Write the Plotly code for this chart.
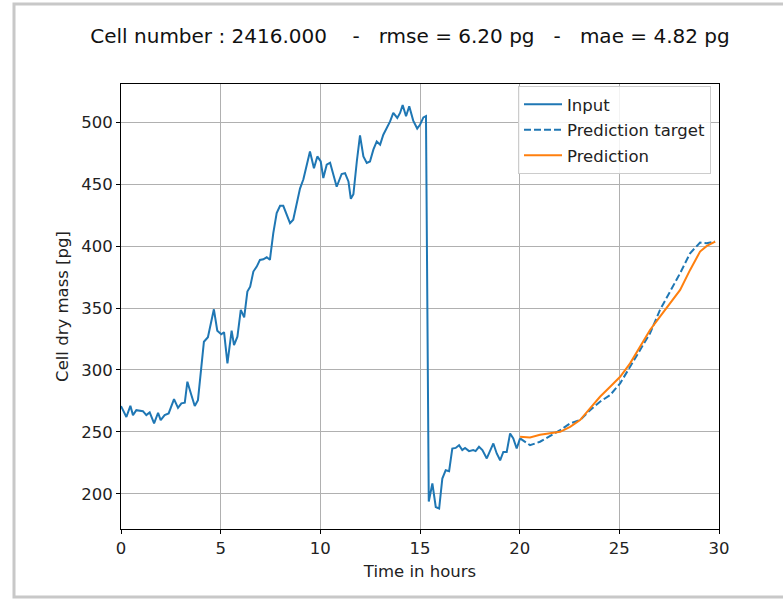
import plotly.graph_objects as go

# ---- data ----
input_t = [0.0, 0.27, 0.47, 0.6, 0.77, 1.1, 1.27, 1.44, 1.66, 1.86, 1.99, 2.19, 2.39, 2.66, 2.86,
           3.03, 3.2, 3.33, 3.53, 3.7, 3.86, 4.16, 4.36, 4.66, 4.83, 5.03, 5.17, 5.34, 5.55, 5.67,
           5.84, 6.01, 6.18, 6.34, 6.48, 6.64, 6.81, 6.97, 7.14, 7.31, 7.47, 7.64, 7.81, 7.98, 8.14,
           8.31, 8.48, 8.64, 8.82, 8.98, 9.15, 9.48, 9.68, 9.85, 10.02, 10.15, 10.32, 10.49, 10.82,
           11.07, 11.24, 11.41, 11.53, 11.66, 11.83, 11.99, 12.16, 12.33, 12.49, 12.66, 12.83, 13.0,
           13.16, 13.33, 13.5, 13.66, 13.86, 14.0, 14.13, 14.3, 14.46, 14.66, 14.86, 15.0, 15.17,
           15.3, 15.44, 15.62, 15.79, 15.96, 16.12, 16.29, 16.46, 16.62, 16.79, 16.96, 17.12, 17.26,
           17.46, 17.67, 17.79, 17.96, 18.13, 18.35, 18.52, 18.68, 18.85, 19.02, 19.18, 19.35, 19.52,
           19.68, 19.85, 20.02]
input_mass = [270.8, 262, 271, 263.5, 267.5, 266.7, 263.5, 265.7, 256.8, 265.4, 259.5, 263.5, 264.9,
              276.4, 269.4, 273, 273.5, 290.5, 279.7, 270.8, 275.6, 322.8, 326.4, 349, 331.7, 328.8,
              330.5, 305.3, 331.7, 320, 326.9, 348.5, 342.5, 363.3, 367.3, 379.5, 383.5, 388.9, 389.4,
              391, 389, 410.5, 426.7, 432.6, 432.6, 425.3, 418.6, 421.3, 434.8, 446.5, 454, 476.5, 463,
              472.5, 468.4, 455, 465.8, 467.4, 448, 458.3, 459, 452.3, 438.3, 442, 468.4, 489.5, 472.5,
              467.2, 468.4, 478, 484.6, 482, 490, 495.5, 500.8, 507.6, 503.6, 507.6, 514, 504.9, 513,
              501.4, 495, 498, 504, 505, 193.7, 208.3, 189.3, 188, 212.3, 219, 218.2, 236.5, 237, 239.2,
              235.2, 237, 234.4, 235.2, 234.4, 237.9, 235.2, 228.5, 235.2, 240.6, 232.5, 227, 233.8,
              233.8, 248.7, 244.7, 236.5, 244.7]

target_t = [20.02, 20.52, 21.02, 21.52, 22.03, 22.53, 23.03, 23.53, 24.03, 24.54, 25.04, 25.54,
            26.04, 26.54, 27.04, 27.55, 28.05, 28.55, 29.05, 29.39, 29.8]
target_mass = [244.7, 239.2, 242, 246.5, 251.4, 256.8, 259.5, 267.5, 274.3, 279.7, 289.2, 302.6,
               316.1, 329.6, 348.5, 363.3, 378.2, 394.3, 402.9, 402.4, 403.7]

pred_t = [20.02, 20.52, 21.02, 21.52, 22.03, 22.53, 23.03, 23.53, 24.03, 24.54, 25.04, 25.54,
          26.04, 26.54, 27.04, 27.55, 28.05, 28.55, 29.05, 29.39, 29.81]
pred_mass = [246, 245.5, 247.6, 248.7, 250, 254, 259.5, 268.9, 278.3, 286.4, 294.5, 305.3,
             318.8, 332.3, 343, 353.9, 364.6, 380.8, 395.6, 400.2, 403.7]

x_ticks = [0, 5, 10, 15, 20, 25, 30]
y_ticks = [200, 250, 300, 350, 400, 450, 500]

title_text = ("Cell number : 2416.000&nbsp;&nbsp;&nbsp;&nbsp;-&nbsp;&nbsp;&nbsp;rmse = 6.20 pg"
              "&nbsp;&nbsp;&nbsp;-&nbsp;&nbsp;&nbsp;mae = 4.82 pg")

BLUE = "#1f77b4"
ORANGE = "#ff7f0e"
FONT = "DejaVu Sans"
FS = 16.5

fig = go.Figure()
fig.add_trace(go.Scatter(x=input_t, y=input_mass, mode="lines", name="Input",
                         line=dict(color=BLUE, width=2), legendgroup="a"))
fig.add_trace(go.Scatter(x=target_t, y=target_mass, mode="lines", name="Prediction target",
                         line=dict(color=BLUE, width=2, dash="7px,3px"), legendgroup="b"))
fig.add_trace(go.Scatter(x=pred_t, y=pred_mass, mode="lines", name="Prediction",
                         line=dict(color=ORANGE, width=2), legendgroup="c"))

L, R, T, B = 121, 64, 84, 71
W, H = 783, 600
pw, ph = W - L - R, H - T - B


def px(xp):
    return (xp - L) / pw


def py(yp):
    return (H - B - yp) / ph


axis_common = dict(showgrid=True, gridcolor="#b0b0b0", gridwidth=1, showline=True,
                   linecolor="black", linewidth=1, mirror=True, ticks="outside", ticklen=4,
                   tickcolor="black", zeroline=False,
                   tickfont=dict(family=FONT, size=FS, color="#222"))

fig.update_layout(
    width=W, height=H,
    margin=dict(l=L, r=R, t=T, b=B),
    paper_bgcolor="white", plot_bgcolor="white",
    font=dict(family=FONT, color="#222"),
    title=dict(text=title_text, x=px(410), xref="paper", xanchor="center",
               y=1 - 36 / H, yref="container", yanchor="middle",
               font=dict(family=FONT, size=20, color="#111")),
    xaxis=dict(range=[0, 30], tickvals=x_ticks,
               title=dict(text="Time in hours", font=dict(family=FONT, size=FS), standoff=8),
               **axis_common),
    yaxis=dict(range=[171.5, 531], tickvals=y_ticks,
               title=dict(text="Cell dry mass [pg]", font=dict(family=FONT, size=FS), standoff=8),
               **axis_common),
    showlegend=True,
    legend=dict(x=px(711), y=py(86), xanchor="right", yanchor="top",
                bgcolor="rgba(255,255,255,0.85)", bordercolor="#cccccc", borderwidth=1,
                font=dict(family=FONT, size=FS, color="#222"), tracegroupgap=1,
                itemwidth=38),
    shapes=[
        dict(type="rect", xref="paper", yref="paper", x0=px(14), x1=px(800), y0=py(597), y1=py(4),
             line=dict(color="#c8c8c8", width=3), fillcolor="rgba(0,0,0,0)", layer="below"),
    ],
)

fig.write_html("out.html")
